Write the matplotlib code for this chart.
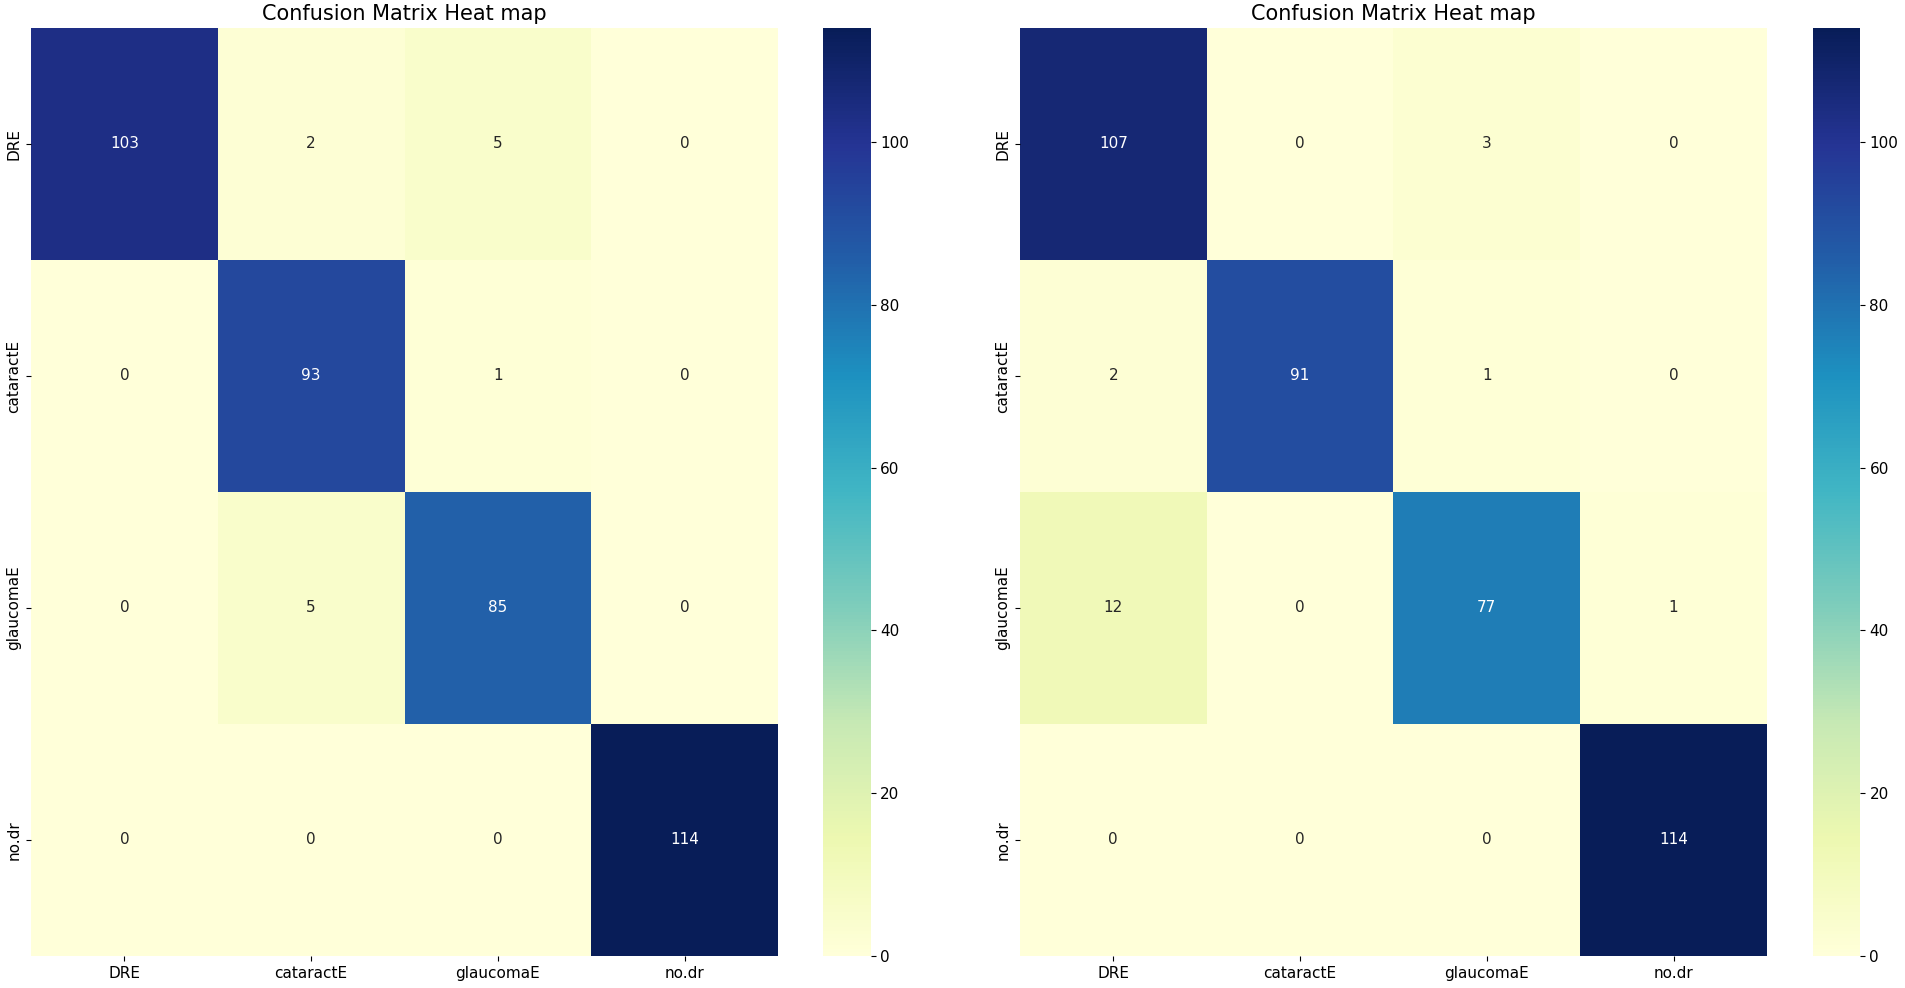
import matplotlib
matplotlib.use("Agg")
import matplotlib.pyplot as plt
import numpy as np
import seaborn as sns

labels = ["DRE", "cataractE", "glaucomaE", "no.dr"]

# left model
cm_left = [
    [103, 2, 5, 0],
    [0, 93, 1, 0],
    [0, 5, 85, 0],
    [0, 0, 0, 114],
]

# right model
cm_right = [
    [107, 0, 3, 0],
    [2, 91, 1, 0],
    [12, 0, 77, 1],
    [0, 0, 0, 114],
]

plt.rcParams["font.family"] = ["DejaVu Sans"]
plt.rcParams["font.size"] = 11

fig = plt.figure(figsize=(19.05, 9.88), dpi=100)

# axes positions in figure fractions
ax1 = fig.add_axes([0.0163, 0.0324, 0.3921, 0.9393])
cax1 = fig.add_axes([0.4320, 0.0324, 0.0250, 0.9393])
ax2 = fig.add_axes([0.5354, 0.0324, 0.3921, 0.9393])
cax2 = fig.add_axes([0.9517, 0.0324, 0.0245, 0.9393])

for ax, cax, cm in [(ax1, cax1, cm_left), (ax2, cax2, cm_right)]:
    sns.heatmap(np.array(cm), annot=True, fmt="d", cmap="YlGnBu",
                xticklabels=labels, yticklabels=labels,
                ax=ax, cbar_ax=cax, annot_kws={"size": 11})
    ax.set_title("Confusion Matrix Heat map", fontsize=15)
    ax.tick_params(labelsize=11)
    cax.tick_params(labelsize=11)

fig.savefig("out.png", dpi=100)
